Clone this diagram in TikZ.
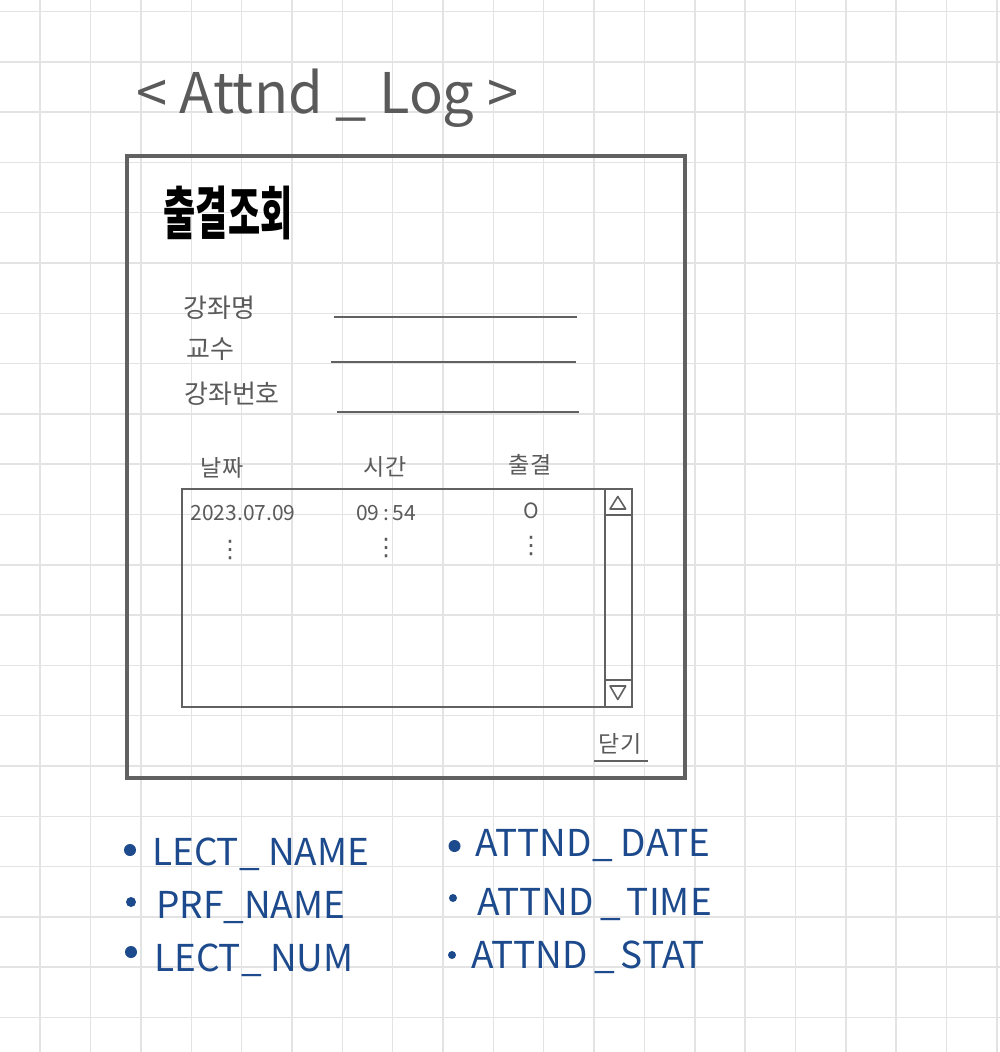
\documentclass[tikz,border=0pt]{standalone}
\usepackage{fontspec}
\usepackage{graphicx}
\setmainfont{Noto Sans CJK KR}
\newfontfamily\symfont{DejaVu Sans}
\definecolor{gridgray}{HTML}{E3E3E3}
\definecolor{framegray}{HTML}{616161}
\definecolor{labelgray}{HTML}{5A5A5A}
\definecolor{fieldblue}{HTML}{1C4A8C}
\begin{document}
\begin{tikzpicture}[x=1pt,y=-1pt,
  gridline/.style={draw=gridgray, line width=1.5pt},
  mainframe/.style={draw=framegray, line width=3.5pt},
  boxline/.style={draw=framegray, line width=1.8pt},
  inputline/.style={draw=framegray, line width=2pt},
  lbl/.style={text=labelgray, inner sep=0pt, anchor=west, font=\fontsize{26}{28}\selectfont},
  head/.style={text=labelgray, inner sep=0pt, font=\fontsize{23}{25}\selectfont},
  cell/.style={text=labelgray, inner sep=0pt, font=\fontsize{21}{23}\selectfont},
  dots/.style={text=labelgray, inner sep=0pt, font=\symfont\fontsize{24}{26}\selectfont},
  field/.style={text=fieldblue, inner sep=0pt, anchor=base west, font=\fontsize{37}{40}\selectfont},
  bulletdot/.style={circle, fill=fieldblue, draw=none, inner sep=0pt, minimum size=#1},
  bulletdot/.default=12pt
]
\useasboundingbox (0,0) rectangle (1000,1052);
\fill[white] (0,0) rectangle (1000,1052);
% grid
\foreach \i in {0,...,19} {\draw[gridline] ({40.2+50.35*\i},0) -- ({40.2+50.35*\i},1052);}
\foreach \j in {0,...,20} {\draw[gridline] (0,{11.5+50.3*\j}) -- (1000,{11.5+50.3*\j});}

% title
\node[text=labelgray, inner sep=0pt, anchor=base west, font=\fontsize{56}{60}\selectfont] (title) at (136,113) {< Attnd \_ Log >};

% main frame
\draw[mainframe] (127,156) rectangle (685,778);
\node[inner sep=0pt, text=black, font=\bfseries\fontsize{50}{54}\selectfont] (heading) at (228,213) {\scalebox{0.7}[1.15]{출결조회}};

% labels and input lines
\node[lbl] (lname) at (183,308) {강좌명};
\node[lbl] (prof) at (186,349) {교수};
\node[lbl] (lnum) at (184,394) {강좌번호};
\coordinate (l1a) at (334,316.7); \coordinate (l1b) at (577,316.7);
\coordinate (l2a) at (331,362.3); \coordinate (l2b) at (576,362.3);
\coordinate (l3a) at (337,411.7); \coordinate (l3b) at (579,411.7);
\draw[inputline] (l1a) -- (l1b);
\draw[inputline] (l2a) -- (l2b);
\draw[inputline] (l3a) -- (l3b);

% column headers
\node[head] (hdate) at (222,468) {날짜};
\node[head] (htime) at (385,467) {시간};
\node[head] (hstat) at (530,465) {출결};

% list box with scrollbar
\draw[boxline] (182,489) rectangle (632,707);
\draw[boxline] (605,489) -- (605,707);
\draw[boxline] (605,515) -- (632,515);
\draw[boxline] (605,680) -- (632,680);
\draw[framegray, line width=1.6pt, line join=round] (610,509) -- (625.7,509) -- (617.8,496.5) -- cycle;
\draw[framegray, line width=1.6pt, line join=round] (610,686) -- (625.7,686) -- (617.8,699.5) -- cycle;

% rows
\node[cell] (date1) at (243,513) {2023.07.09};
\node[cell] (time1) at (386,513) {09\,:\,54};
\node[cell] (stat1) at (531.7,511) {O};
\node[dots] (d1) at (230,550) {⋮};
\node[dots] (d2) at (386,548) {⋮};
\node[dots] (d3) at (531,546) {⋮};

% close
\node[head] (close) at (620,744) {닫기};
\coordinate (cla) at (594,761); \coordinate (clb) at (648,761);
\draw[framegray, line width=1.8pt] (cla) -- (clb);

% field list
\node[bulletdot] (b1) at (130,850) {};
\node[bulletdot=10pt] (b2) at (131,902) {};
\node[bulletdot] (b3) at (131,952) {};
\node[bulletdot] (b4) at (454.5,846) {};
\node[bulletdot=8pt] (b5) at (453,898) {};
\node[bulletdot=8pt] (b6) at (452,955) {};
\node[field] (f1) at (152,865) {LECT\_ NAME};
\node[field] (f2) at (156,918) {PRF\_NAME};
\node[field] (f3) at (154,971) {LECT\_ NUM};
\node[field] (f4) at (475,856) {ATTND\_ DATE};
\node[field] (f5) at (477,915) {ATTND\,\_\,TIME};
\node[field] (f6) at (471,968) {ATTND\,\_\,STAT};
\end{tikzpicture}
\end{document}
